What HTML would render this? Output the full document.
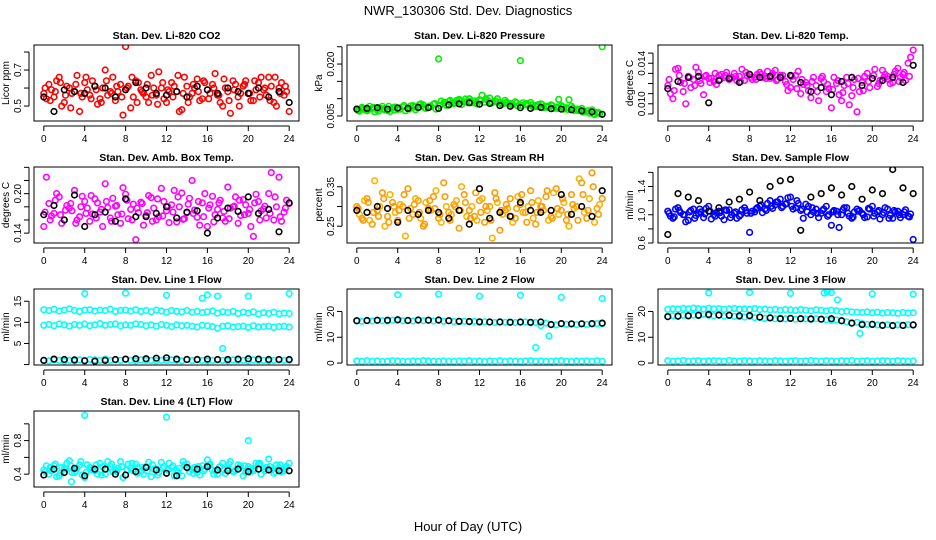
<!DOCTYPE html>
<html><head><meta charset="utf-8"><style>
html,body{margin:0;padding:0;background:#fff;}
svg{display:block;font-family:"Liberation Sans",Arial,sans-serif;}
</style></head><body>
<svg id="chart" width="936" height="540" viewBox="0 0 936 540" xmlns="http://www.w3.org/2000/svg">
<text x="468" y="15" text-anchor="middle" font-size="13">NWR_130306  Std. Dev. Diagnostics</text>
<text x="468" y="531" text-anchor="middle" font-size="13">Hour of Day (UTC)</text>
</svg>
<script>
const xTicks=[0,4,8,12,16,20,24];
// CO2
const co2A=[0.57,0.62,0.55,0.66,0.52,0.60,0.58,0.47,0.63,0.56,0.61,0.54,0.70,0.58,0.53,0.62,0.83,0.49,0.64,0.59,0.55,0.67,0.56,0.60,0.52,0.63,0.58,0.48,0.61,0.57,0.65,0.54,0.59,0.62,0.56,0.50,0.58,0.64,0.55,0.61,0.57,0.53,0.63,0.59,0.66,0.52,0.60,0.56,0.47];
const co2B=[0.54,0.59,0.64,0.50,0.61,0.57,0.67,0.55,0.59,0.64,0.51,0.60,0.56,0.66,0.58,0.45,0.61,0.55,0.63,0.57,0.52,0.60,0.69,0.54,0.58,0.61,0.47,0.66,0.55,0.60,0.53,0.63,0.57,0.68,0.52,0.60,0.46,0.62,0.57,0.64,0.53,0.59,0.66,0.56,0.61,0.50,0.63,0.58];
const co2C=[0.60,0.53,0.58,0.63,0.56,0.49,0.62,0.57,0.66,0.54,0.59,0.52,0.64,0.57,0.61,0.55,0.60,0.66,0.52,0.58,0.62,0.56,0.51,0.63,0.59,0.55,0.67,0.57,0.52,0.62,0.58,0.64,0.54,0.60,0.56,0.65,0.53,0.59,0.50,0.62,0.57,0.64,0.55,0.60,0.53,0.66,0.57,0.61];
const co2K=[0.55,0.47,0.59,0.58,0.57,0.61,0.60,0.55,0.59,0.63,0.60,0.57,0.56,0.58,0.55,0.61,0.59,0.57,0.60,0.58,0.57,0.60,0.55,0.58,0.52];
// Pressure
const prA=[0.0070,0.0075,0.0065,0.0072,0.0068,0.0078,0.0066,0.0074,0.0069,0.0077,0.0071,0.0080,0.0073,0.0082,0.0075,0.0084,0.0215,0.0088,0.0092,0.0086,0.0098,0.0091,0.0100,0.0094,0.0097,0.0090,0.0102,0.0093,0.0088,0.0095,0.0086,0.0091,0.0210,0.0084,0.0089,0.0080,0.0085,0.0078,0.0082,0.0076,0.0080,0.0074,0.0078,0.0070,0.0072,0.0064,0.0068,0.0060,0.0250];
const prB=[0.0064,0.0069,0.0078,0.0062,0.0073,0.0067,0.0063,0.0076,0.0070,0.0065,0.0079,0.0068,0.0085,0.0072,0.0077,0.0070,0.0093,0.0081,0.0087,0.0095,0.0083,0.0090,0.0088,0.0085,0.0110,0.0096,0.0089,0.0100,0.0084,0.0087,0.0082,0.0079,0.0088,0.0081,0.0076,0.0083,0.0074,0.0079,0.0072,0.0098,0.0070,0.0097,0.0066,0.0069,0.0062,0.0058,0.0054,0.0057];
const prC=[0.0066,0.0072,0.0068,0.0075,0.0064,0.0071,0.0078,0.0067,0.0073,0.0080,0.0070,0.0076,0.0083,0.0074,0.0079,0.0086,0.0080,0.0090,0.0095,0.0088,0.0093,0.0099,0.0092,0.0089,0.0094,0.0100,0.0087,0.0092,0.0085,0.0090,0.0083,0.0088,0.0080,0.0086,0.0082,0.0077,0.0083,0.0075,0.0080,0.0072,0.0077,0.0069,0.0073,0.0066,0.0061,0.0065,0.0056,0.0060];
const prK=[0.0070,0.0072,0.0074,0.0070,0.0073,0.0072,0.0075,0.0074,0.0072,0.0082,0.0085,0.0088,0.0084,0.0086,0.0080,0.0078,0.0074,0.0072,0.0075,0.0071,0.0070,0.0068,0.0065,0.0062,0.0055];
// Temp
const tpA=[0.0118,0.0105,0.0135,0.0112,0.0127,0.0124,0.0131,0.0109,0.0125,0.0122,0.0128,0.0126,0.0124,0.0130,0.0127,0.0123,0.0129,0.0126,0.0131,0.0127,0.0125,0.0133,0.0128,0.0122,0.0116,0.0128,0.0110,0.0121,0.0106,0.0118,0.0125,0.0112,0.0096,0.0120,0.0103,0.0126,0.0108,0.0092,0.0121,0.0130,0.0125,0.0117,0.0133,0.0127,0.0121,0.0135,0.0129,0.0140,0.0153];
const tpB=[0.0110,0.0134,0.0121,0.0100,0.0116,0.0136,0.0120,0.0128,0.0125,0.0119,0.0129,0.0131,0.0126,0.0123,0.0134,0.0128,0.0124,0.0129,0.0126,0.0132,0.0130,0.0124,0.0128,0.0113,0.0124,0.0132,0.0119,0.0113,0.0126,0.0103,0.0122,0.0115,0.0126,0.0109,0.0118,0.0099,0.0124,0.0112,0.0127,0.0116,0.0134,0.0123,0.0129,0.0120,0.0132,0.0126,0.0123,0.0146];
const tpC=[0.0124,0.0113,0.0128,0.0120,0.0126,0.0118,0.0123,0.0127,0.0121,0.0130,0.0124,0.0128,0.0125,0.0127,0.0122,0.0131,0.0126,0.0124,0.0129,0.0125,0.0128,0.0123,0.0126,0.0119,0.0127,0.0115,0.0124,0.0118,0.0122,0.0112,0.0127,0.0119,0.0114,0.0123,0.0111,0.0120,0.0116,0.0125,0.0113,0.0122,0.0128,0.0120,0.0126,0.0124,0.0129,0.0122,0.0131,0.0127];
const tpK=[0.0115,0.0122,0.0126,0.0127,0.0101,0.0123,0.0125,0.0121,0.0129,0.0126,0.0127,0.0126,0.0128,0.0121,0.0112,0.0116,0.0109,0.0122,0.0126,0.0118,0.0125,0.0123,0.0126,0.0121,0.0138];
// Amb box temp
const abA=[0.150,0.185,0.170,0.195,0.160,0.178,0.205,0.165,0.188,0.158,0.192,0.172,0.215,0.163,0.181,0.155,0.199,0.176,0.130,0.187,0.167,0.194,0.160,0.208,0.174,0.183,0.157,0.201,0.171,0.220,0.164,0.186,0.150,0.196,0.176,0.163,0.210,0.180,0.155,0.191,0.170,0.135,0.188,0.177,0.200,0.160,0.225,0.172,0.185];
const abB=[0.225,0.166,0.200,0.155,0.182,0.174,0.160,0.196,0.178,0.169,0.186,0.150,0.179,0.193,0.168,0.209,0.162,0.184,0.171,0.152,0.197,0.178,0.165,0.188,0.156,0.205,0.180,0.162,0.193,0.175,0.152,0.200,0.183,0.168,0.190,0.158,0.178,0.195,0.167,0.183,0.150,0.199,0.174,0.163,0.232,0.180,0.158,0.190];
const abC=[0.172,0.160,0.190,0.168,0.175,0.185,0.155,0.180,0.170,0.197,0.163,0.176,0.188,0.158,0.182,0.169,0.190,0.160,0.178,0.185,0.171,0.158,0.192,0.166,0.180,0.172,0.195,0.161,0.184,0.170,0.188,0.165,0.178,0.157,0.186,0.173,0.162,0.181,0.190,0.168,0.176,0.186,0.160,0.181,0.170,0.195,0.165,0.178];
const abK=[0.168,0.182,0.160,0.198,0.150,0.168,0.172,0.158,0.192,0.165,0.165,0.170,0.180,0.163,0.172,0.174,0.140,0.163,0.178,0.173,0.195,0.170,0.176,0.142,0.186];
// RH
const rhA=[0.300,0.270,0.320,0.255,0.290,0.335,0.275,0.310,0.265,0.300,0.345,0.280,0.315,0.250,0.295,0.325,0.270,0.360,0.285,0.305,0.245,0.330,0.290,0.275,0.315,0.260,0.300,0.335,0.240,0.290,0.320,0.270,0.305,0.285,0.340,0.255,0.300,0.325,0.275,0.345,0.290,0.265,0.330,0.300,0.360,0.270,0.385,0.295,0.320];
const rhB=[0.280,0.315,0.265,0.365,0.300,0.250,0.330,0.285,0.305,0.225,0.295,0.320,0.270,0.310,0.290,0.340,0.260,0.300,0.280,0.315,0.350,0.275,0.300,0.265,0.320,0.290,0.220,0.310,0.280,0.295,0.260,0.325,0.285,0.300,0.270,0.315,0.290,0.265,0.335,0.280,0.310,0.250,0.295,0.370,0.285,0.320,0.260,0.305];
const rhC=[0.295,0.265,0.310,0.285,0.275,0.320,0.260,0.300,0.290,0.330,0.270,0.305,0.285,0.255,0.315,0.295,0.280,0.325,0.265,0.300,0.290,0.310,0.270,0.335,0.285,0.300,0.265,0.320,0.290,0.305,0.275,0.295,0.330,0.260,0.310,0.285,0.300,0.340,0.270,0.295,0.320,0.280,0.305,0.265,0.330,0.290,0.350,0.280];
const rhK=[0.290,0.285,0.300,0.295,0.260,0.290,0.280,0.290,0.285,0.270,0.290,0.255,0.345,0.270,0.285,0.275,0.310,0.290,0.285,0.290,0.330,0.280,0.300,0.275,0.340];
// Sample flow
const sfA=[1.05,0.95,1.10,1.00,0.92,1.08,1.02,0.96,1.12,1.00,1.05,0.93,1.07,1.02,0.98,1.10,0.75,1.04,1.12,1.08,1.20,1.14,1.22,1.15,1.25,1.10,1.06,1.15,1.00,1.08,1.02,1.12,0.85,1.05,1.00,1.10,0.95,1.08,1.02,0.97,1.12,1.04,1.00,1.08,0.95,1.05,1.00,0.98,0.65];
const sfB=[0.98,1.08,1.03,0.90,1.06,0.99,1.04,1.09,0.94,1.03,0.98,1.06,1.00,0.95,1.07,1.02,1.05,1.10,1.03,1.16,1.09,1.18,1.12,1.24,1.08,1.16,0.95,1.12,1.04,0.96,1.08,1.00,1.06,0.82,1.10,0.98,1.04,1.06,0.96,1.08,1.02,0.94,1.10,0.99,1.04,0.96,1.07,1.01];
const sfC=[1.02,0.97,1.06,1.00,1.04,0.95,1.08,1.01,1.05,0.98,1.03,1.07,0.96,1.04,1.00,1.06,1.02,1.08,1.14,1.06,1.12,1.18,1.10,1.16,1.12,1.20,1.08,1.04,1.10,1.02,1.06,0.98,1.04,1.00,1.07,1.02,0.97,1.05,1.00,1.09,0.98,1.06,1.03,0.95,1.06,1.00,1.04,0.97];
const sfK=[0.72,1.30,1.25,1.20,1.05,1.10,1.18,1.22,1.32,1.20,1.40,1.48,1.50,0.78,1.25,1.30,1.38,1.28,1.40,1.22,1.35,1.30,1.64,1.38,1.30];
// Line 1
const l1A=[13.0,12.8,13.1,12.7,12.9,13.2,12.8,12.6,12.9,13.0,12.7,12.9,12.8,13.1,12.6,12.8,12.9,12.7,13.0,12.6,12.8,12.5,12.9,12.7,12.4,12.8,12.6,12.5,12.8,12.4,12.6,12.3,12.5,12.7,12.2,12.5,12.3,12.6,12.1,12.4,12.2,12.5,12.0,12.3,12.1,12.4,12.0,12.2,12.1];
const l1B=[9.3,9.5,9.2,9.6,9.4,9.1,9.5,9.3,9.6,9.2,9.4,9.7,9.3,9.5,9.6,9.2,9.4,9.3,9.6,9.5,9.2,9.4,9.1,9.5,9.3,9.0,9.4,9.2,9.3,9.1,8.9,9.3,9.2,9.0,8.6,9.1,9.2,8.9,9.0,9.1,8.8,9.2,8.9,9.0,9.1,8.8,9.0,9.1,8.9];
const l1C=[1.0,0.9,1.1,1.0,0.8,1.0,0.9,1.1,1.0,1.2,1.1,1.0,1.3,1.0,1.1,1.0,1.2,1.0,0.9,1.1,1.0,1.0,0.9,1.0,1.0,1.1,1.0,0.9,1.2,1.0,1.1,1.0,0.9,1.0,1.1,1.0,0.9,1.1,1.0,1.0,0.9,1.1,1.0,1.0,0.9,1.0,1.1,1.0,1.0];
const l1K=[1.0,1.3,1.2,1.1,0.9,0.8,1.0,1.2,1.3,1.4,1.4,1.5,1.6,1.3,1.2,1.2,1.3,1.2,1.2,1.3,1.4,1.3,1.2,1.2,1.2];
const l1OutH=[4,8,12,15.5,16,17,17.5,20,24];
const l1OutV=[16.8,16.9,16.4,15.7,16.5,16.2,3.8,16.2,16.8];
// Line 2
const l2A=[16.3,16.2,16.4,16.3,16.5,16.4,16.3,16.6,16.5,16.4,16.6,16.3,16.5,16.4,16.6,16.3,16.5,16.2,16.4,16.1,16.0,16.2,15.9,16.1,15.8,16.0,15.9,15.7,16.0,15.8,15.9,15.7,15.8,15.9,15.6,15.7,14.5,15.5,15.0,14.8,15.2,15.0,15.1,14.9,15.2,15.0,15.1,15.3,15.2];
const l2C=[0.8,0.6,0.9,0.7,0.8,0.6,0.7,0.9,0.8,0.7,0.6,0.8,0.7,0.9,0.8,0.7,0.6,0.8,0.7,0.6,0.8,0.7,0.9,0.7,0.8,0.6,0.8,0.7,0.9,0.6,0.8,0.7,0.6,0.8,0.9,0.7,0.8,0.6,0.7,0.8,0.9,0.7,0.6,0.8,0.7,0.8,0.6,0.9,0.7];
const l2K=[16.4,16.5,16.6,16.6,16.8,16.5,16.7,16.6,16.7,16.4,16.2,16.1,16.0,15.9,15.9,15.8,15.9,15.8,15.9,14.9,15.3,15.2,15.2,15.3,15.5];
const l2OutH=[4,8,12,16,17.5,18.8,20,24];
const l2OutV=[26.5,26.7,25.9,26.3,6.0,10.5,25.5,25.0];
// Line 3
const l3A=[20.8,21.0,20.9,21.2,21.0,21.3,21.1,20.9,21.2,21.0,21.1,20.8,21.0,21.2,20.9,21.0,20.8,21.1,20.7,20.9,20.6,20.8,20.5,20.7,20.6,20.4,20.7,20.5,20.3,20.6,20.4,20.2,20.5,20.3,19.9,20.1,19.8,19.7,19.6,19.8,19.5,19.7,19.4,19.6,19.5,19.3,19.6,19.4,19.5];
const l3B=[18.0,18.3,18.1,18.5,18.2,18.6,18.4,18.9,18.5,18.3,18.6,18.2,18.4,18.1,18.0,17.8,18.1,17.6,17.7,17.3,17.5,17.2,17.4,17.1,17.3,17.0,17.2,17.1,16.9,17.2,17.0,16.8,16.5,16.7,16.3,16.0,15.6,15.8,15.3,15.0,15.1,14.8,14.7,14.9,14.6,14.8,14.5,14.9,14.7];
const l3C=[0.9,0.7,0.8,1.0,0.7,0.8,0.9,0.7,0.8,0.9,0.8,0.7,1.0,0.8,0.7,0.9,0.8,0.7,0.9,0.8,0.7,0.9,0.8,0.7,0.8,0.9,0.7,0.8,1.0,0.8,0.7,0.9,0.8,0.7,0.9,0.8,1.0,0.7,0.8,0.9,0.7,0.8,0.9,0.8,0.7,0.9,0.8,0.7,0.8];
const l3K=[18.0,18.2,18.3,18.5,18.8,18.6,18.5,18.3,18.4,17.8,17.5,17.2,17.3,17.2,17.1,17.0,17.2,16.4,15.5,14.9,15.0,14.6,14.5,14.6,14.8];
const l3OutH=[4,8,12,15.3,15.6,16,16.6,18.8,20,24];
const l3OutV=[27.2,27.3,27.0,27.1,27.5,27.3,24.5,11.5,26.8,26.7];
// Line 4
const l4A=[0.45,0.40,0.50,0.38,0.47,0.56,0.42,0.51,0.36,0.48,0.44,0.53,0.40,0.49,0.45,0.55,0.39,0.47,0.52,0.43,0.49,0.37,0.46,0.54,0.41,0.48,0.44,0.38,0.52,0.46,0.42,0.50,0.57,0.45,0.40,0.53,0.47,0.43,0.51,0.38,0.49,0.44,0.52,0.46,0.58,0.41,0.48,0.44,0.53];
const l4B=[0.50,0.44,0.37,0.48,0.53,0.42,0.47,0.39,0.51,0.45,0.40,0.49,0.55,0.43,0.47,0.36,0.52,0.44,0.48,0.40,0.54,0.46,0.42,0.49,0.53,0.38,0.47,0.51,0.43,0.48,0.39,0.46,0.52,0.44,0.49,0.41,0.55,0.45,0.50,0.42,0.47,0.53,0.40,0.48,0.45,0.51,0.43,0.49];
const l4C=[0.43,0.48,0.52,0.41,0.46,0.50,0.44,0.55,0.42,0.47,0.51,0.39,0.46,0.52,0.43,0.49,0.45,0.53,0.41,0.48,0.44,0.51,0.39,0.47,0.45,0.50,0.42,0.55,0.47,0.41,0.49,0.44,0.51,0.40,0.48,0.45,0.52,0.43,0.47,0.50,0.42,0.46,0.53,0.44,0.49,0.43,0.51,0.46];
const l4K=[0.39,0.46,0.42,0.47,0.38,0.46,0.46,0.40,0.39,0.43,0.48,0.45,0.41,0.38,0.48,0.46,0.49,0.45,0.44,0.46,0.43,0.46,0.45,0.44,0.44];
const l4OutH=[2.7,4,12,20];
const l4OutV=[0.31,1.10,1.08,0.80];

const NS='http://www.w3.org/2000/svg';
const svg=document.getElementById('chart');
const colLeft=[34,347,658], rowTop=[45,167,289,411], PW=265, PH=76;
function mk(tag,attrs,parent){const e=document.createElementNS(NS,tag);for(const k in attrs)e.setAttribute(k,attrs[k]);(parent||svg).appendChild(e);return e;}

function panel(id,title,ylab,col,row,ymin,ymax,yT,yL,series){
  const L=colLeft[col],T=rowTop[row];
  const g=mk('g',{});
  
  
  const xs=h=>L+(h+0.96)/25.92*PW;
  const ys=v=>T+PH-(v-ymin)/(ymax-ymin)*PH;
  const cp=mk('clipPath',{id:'c'+id},g);mk('rect',{x:L,y:T,width:PW,height:PH},cp);
  const pts=mk('g',{'clip-path':'url(#c'+id+')'},g);
  series.forEach(s=>{
    s.v.forEach((v,i)=>{
      const h=s.h?s.h[i]:s.off+i*s.step;
      const c=mk('circle',{cx:xs(h).toFixed(1),cy:ys(v).toFixed(1),r:2.8,fill:'none',stroke:s.c,'stroke-width':1.6},pts);
      
      
    });
  });
  const box=mk('rect',{x:L,y:T,width:PW,height:PH,fill:'none',stroke:'#000','stroke-width':1},g);
  
  
  const t=mk('text',{x:L+PW/2,y:T-6,'text-anchor':'middle','font-size':10.5,'font-weight':'bold'},g);t.textContent=title;
  
  
  const B=T+PH;
  mk('line',{x1:xs(0),x2:xs(24),y1:B+5,y2:B+5,stroke:'#000'},g);
  xTicks.forEach(h=>{
    mk('line',{x1:xs(h),x2:xs(h),y1:B+5,y2:B+10,stroke:'#000'},g);
    const tl=mk('text',{x:xs(h),y:B+21,'text-anchor':'middle','font-size':10},g);tl.textContent=h;
    
    
  });
  mk('line',{x1:L-5,x2:L-5,y1:ys(yT[0]),y2:ys(yT[yT.length-1]),stroke:'#000'},g);
  yT.forEach((v,i)=>{
    mk('line',{x1:L-10,x2:L-5,y1:ys(v),y2:ys(v),stroke:'#000'},g);
    if(yL[i]){const yl=mk('text',{x:0,y:0,'text-anchor':'middle','font-size':10,transform:`translate(${L-13},${ys(v)}) rotate(-90)`},g);yl.textContent=yL[i];
      
      }
  });
  const ya=mk('text',{x:0,y:0,'text-anchor':'middle','font-size':10,transform:`translate(${L-25},${T+PH/2}) rotate(-90)`},g);ya.textContent=ylab;
  
  
}
const A=(v,c)=>({v,c,off:0,step:0.5}), Bs=(v,c)=>({v,c,off:0.25,step:0.5}), Cs=(v,c)=>({v,c,off:0.125,step:0.5}), K=(v)=>({v,c:'#000',off:0,step:1}), O=(h,v,c)=>({h,v,c});
panel('co2','Stan. Dev. Li-820 CO2','Licor ppm',0,0,0.417,0.839,[0.5,0.6,0.7,0.8],['0.5','','0.7',''],[A(co2A,'#ff0000'),Bs(co2B,'#ff0000'),Cs(co2C,'#ff0000'),K(co2K)]);
panel('pressure','Stan. Dev. Li-820 Pressure','kPa',1,0,0.00356,0.0255,[0.005,0.010,0.015,0.020,0.025],['0.005','','','0.020',''],[A(prA,'#00ee00'),Bs(prB,'#00ee00'),Cs(prC,'#00ee00'),K(prK)]);
panel('temp','Stan. Dev. Li-820 Temp.','degrees C',2,0,0.0083,0.0158,[0.009,0.010,0.011,0.012,0.013,0.014,0.015],['','0.010','','','','0.014',''],[A(tpA,'#ff00ff'),Bs(tpB,'#ff00ff'),Cs(tpC,'#ff00ff'),K(tpK)]);
panel('ambtemp','Stan. Dev. Amb. Box Temp.','degrees C',0,1,0.125,0.2405,[0.14,0.16,0.18,0.20,0.22,0.24],['0.14','','','0.20','',''],[A(abA,'#ff00ff'),Bs(abB,'#ff00ff'),Cs(abC,'#ff00ff'),K(abK)]);
panel('rh','Stan. Dev. Gas Stream RH','percent',1,1,0.2075,0.40,[0.25,0.30,0.35],['0.25','','0.35'],[A(rhA,'#ff9900'),Bs(rhB,'#ffb000'),Cs(rhC,'#ff9900'),K(rhK)]);
panel('sampleflow','Stan. Dev. Sample Flow','ml/min',2,1,0.6,1.676,[0.6,0.8,1.0,1.2,1.4,1.6],['0.6','','1.0','','1.4',''],[A(sfA,'#0000ff'),Bs(sfB,'#0000ff'),Cs(sfC,'#0000ff'),K(sfK)]);
panel('line1','Stan. Dev. Line 1 Flow','ml/min',0,2,-0.1,17.9,[0,5,10,15],['','5','10','15'],[A(l1A,'#00ffff'),A(l1B,'#00ffff'),A(l1C,'#00ffff'),O(l1OutH,l1OutV,'#00ffff'),K(l1K)]);
panel('line2','Stan. Dev. Line 2 Flow','ml/min',1,2,-0.75,28.7,[0,10,20],['0','10','20'],[A(l2A,'#00ffff'),A(l2C,'#00ffff'),O(l2OutH,l2OutV,'#00ffff'),K(l2K)]);
panel('line3','Stan. Dev. Line 3 Flow','ml/min',2,2,-0.75,28.7,[0,10,20],['0','10','20'],[A(l3A,'#00ffff'),A(l3B,'#00ffff'),A(l3C,'#00ffff'),O(l3OutH,l3OutV,'#00ffff'),K(l3K)]);
panel('line4','Stan. Dev. Line 4 (LT) Flow','ml/min',0,3,0.247,1.153,[0.4,0.6,0.8,1.0],['0.4','','0.8',''],[A(l4A,'#00ffff'),Bs(l4B,'#00ffff'),Cs(l4C,'#00ffff'),O(l4OutH,l4OutV,'#00ffff'),K(l4K)]);
</script>
</body></html>
